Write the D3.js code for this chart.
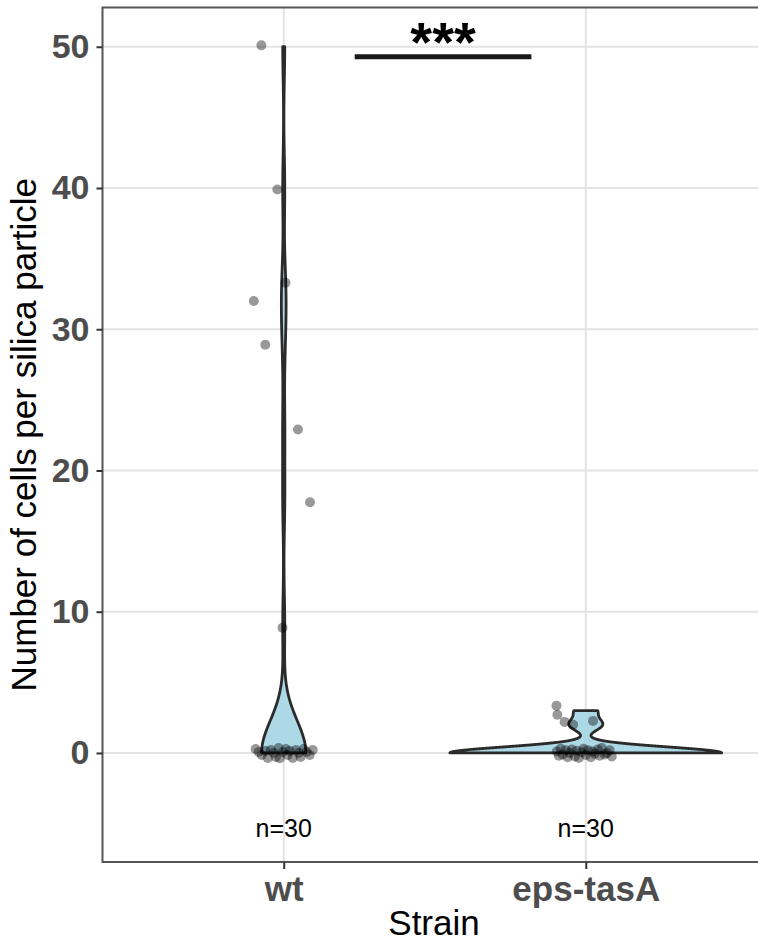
<!DOCTYPE html>
<html>
<head>
<meta charset="utf-8">
<script src="https://cdn.jsdelivr.net/npm/d3@7"></script>
<style>
  body { margin: 0; background: #fff; }
  svg text { font-family: "Liberation Sans", Arial, Helvetica, sans-serif; }
</style>
</head>
<body>
<svg id="chart" width="758" height="941"></svg>
<script>
// strains and sample sizes
const categories = ['wt', 'eps-tasA'];
const sampleSizes = [30, 30];
const yTicks = [0, 10, 20, 30, 40, 50];

// counted cells per particle (used for the violins)
const wtCounts = [50, 40, 33, 32, 29, 23, 18, 9,
  0, 0, 0, 0, 0, 0, 0, 0, 0, 0, 0, 0, 0, 0, 0, 0, 0, 0, 0, 0, 0, 0];
const epsCounts = [3, 3, 2, 2, 2,
  0, 0, 0, 0, 0, 0, 0, 0, 0, 0, 0, 0, 0, 0, 0, 0, 0, 0, 0, 0, 0, 0, 0, 0, 0];

// jittered points as they appear in the figure
const wtShown = [50.1, 39.9, 33.3, 32.0, 28.9, 22.9, 17.75, 8.87,
  0.28, 0.07, -0.14, 0.14, -0.35, 0.21, 0.0, -0.28, 0.35, -0.38, 0.07,
  0.28, -0.14, 0.14, -0.35, 0.21, 0.0, -0.28, 0.28, 0.07, -0.14, 0.21];
const wtJitter = [-0.074, -0.021, 0.006, -0.099, -0.061, 0.047, 0.087, -0.004,
  -0.093, -0.083, -0.073, -0.060, -0.053, -0.043, -0.033, -0.026, -0.017, -0.013, -0.003,
  0.007, 0.013, 0.020, 0.030, 0.040, 0.050, 0.056, 0.066, 0.076, 0.086, 0.096];
const epsShown = [3.35, 2.7, 2.2, 2.0, 2.27,
  0.1, -0.2, 0.3, -0.1, 0.2, -0.3, 0.0, 0.25, -0.25, 0.15, -0.35, 0.05, 0.3,
  -0.15, 0.2, -0.3, 0.1, -0.05, 0.25, -0.2, 0.35, -0.1, 0.0, 0.2, -0.25];
const epsJitter = [-0.097, -0.094, -0.070, -0.042, 0.024,
  -0.096, -0.089, -0.083, -0.076, -0.066, -0.060, -0.053, -0.046, -0.036, -0.030,
  -0.023, -0.013, -0.007, 0.0, 0.007, 0.017, 0.023, 0.030, 0.040, 0.046,
  0.053, 0.063, 0.070, 0.079, 0.086];

// significance bracket
const sigLabel = '***';
const sigFrom = 1.235, sigTo = 1.82, sigValue = 49.3;

const font = '"Liberation Sans", Arial, Helvetica, sans-serif';
const svg = d3.select('#chart');

const x = d3.scaleLinear().domain([0.4, 2.6]).range([102.5, 767]);
const y = d3.scaleLinear().domain([-7.72, 52.78]).range([862, 7.5]);

// R's bw.nrd0
const bwNrd0 = (v) => {
  const s = v.slice().sort(d3.ascending);
  const sd = d3.deviation(s);
  const iqr = d3.quantileSorted(s, 0.75) - d3.quantileSorted(s, 0.25);
  let lo = Math.min(sd, iqr / 1.34);
  if (!lo) lo = sd || Math.abs(s[0]) || 1;
  return 0.9 * lo * Math.pow(v.length, -0.2);
};

const kde = (v) => {
  const bw = bwNrd0(v);
  const lo = d3.min(v), hi = d3.max(v);
  return d3.range(512).map(i => {
    const t = lo + (hi - lo) * i / 511;
    const d = d3.mean(v, xi => Math.exp(-0.5 * ((t - xi) / bw) ** 2)) / (bw * Math.sqrt(2 * Math.PI));
    return [t, d];
  });
};

const groups = [
  {name: categories[0], counts: wtCounts, shown: wtShown, jitter: wtJitter},
  {name: categories[1], counts: epsCounts, shown: epsShown, jitter: epsJitter},
];
groups.forEach(g => { g.dens = kde(g.counts); });
const maxDens = d3.max(groups, g => d3.max(g.dens, d => d[1]));
const halfW = d3.scaleLinear().domain([0, maxDens]).range([0, 0.45]);

// gridlines
svg.append('g').selectAll('line').data(yTicks).enter().append('line')
  .attr('x1', x.range()[0]).attr('x2', x.range()[1])
  .attr('y1', d => y(d)).attr('y2', d => y(d))
  .attr('stroke', '#e3e3e3').attr('stroke-width', 2);
svg.append('g').selectAll('line').data(categories).enter().append('line')
  .attr('x1', (d, i) => x(i + 1)).attr('x2', (d, i) => x(i + 1))
  .attr('y1', y.range()[0]).attr('y2', y.range()[1])
  .attr('stroke', '#e3e3e3').attr('stroke-width', 2);

// violins
const line = d3.line();
svg.append('g').selectAll('path').data(groups).enter().append('path')
  .attr('d', (g, i) => {
    const right = g.dens.map(d => [x(i + 1 + halfW(d[1])), y(d[0])]);
    const left = g.dens.slice().reverse().map(d => [x(i + 1 - halfW(d[1])), y(d[0])]);
    return line(right.concat(left)) + 'Z';
  })
  .attr('fill', '#add8e6')
  .attr('stroke', '#2b2b2b')
  .attr('stroke-width', 2.8)
  .attr('stroke-linejoin', 'round');

// jittered points
groups.forEach((g, i) => {
  svg.append('g').selectAll('circle').data(g.shown).enter().append('circle')
    .attr('cx', (d, j) => x(i + 1 + g.jitter[j]))
    .attr('cy', d => y(d))
    .attr('r', 5)
    .attr('fill', '#000')
    .attr('fill-opacity', 0.4);
});

// sample size labels
svg.append('g').selectAll('text').data(sampleSizes).enter().append('text')
  .attr('x', (d, i) => x(i + 1))
  .attr('y', y(-5.3))
  .attr('dy', '0.35em')
  .attr('text-anchor', 'middle')
  .style('font-size', '25px')
  .text(d => 'n=' + d);

// significance bar
svg.append('line')
  .attr('x1', x(sigFrom)).attr('x2', x(sigTo))
  .attr('y1', y(sigValue)).attr('y2', y(sigValue))
  .attr('stroke', '#1a1a1a').attr('stroke-width', 5);
svg.append('text')
  .attr('x', x((sigFrom + sigTo) / 2))
  .attr('y', y(sigValue) + 4)
  .attr('text-anchor', 'middle')
  .style('font-size', '56px').style('font-weight', 'bold')
  .text(sigLabel);

// panel border
svg.append('rect')
  .attr('x', x.range()[0]).attr('y', y.range()[1])
  .attr('width', x.range()[1] - x.range()[0])
  .attr('height', y.range()[0] - y.range()[1])
  .attr('fill', 'none').attr('stroke', '#555').attr('stroke-width', 2);

// axes
const yAxis = svg.append('g')
  .attr('transform', `translate(${x.range()[0]},0)`)
  .call(d3.axisLeft(y).tickValues(yTicks).tickSize(6).tickPadding(7));
const xAxis = svg.append('g')
  .attr('transform', `translate(0,${y.range()[0]})`)
  .call(d3.axisBottom(x).tickValues([1, 2]).tickFormat((d, i) => categories[i]).tickSize(7).tickPadding(7));
[yAxis, xAxis].forEach(a => {
  a.select('.domain').remove();
  a.selectAll('.tick line').attr('stroke', '#333').attr('stroke-width', 2);
  a.selectAll('.tick text')
    .attr('fill', '#4d4d4d')
    .style('font-family', font)
    .style('font-weight', 'bold');
});
yAxis.selectAll('.tick text').style('font-size', '34px');
xAxis.selectAll('.tick text').style('font-size', '35px');

// axis titles
svg.append('text')
  .attr('x', 434)
  .attr('y', 935)
  .attr('text-anchor', 'middle')
  .style('font-size', '35px')
  .text('Strain');
svg.append('text')
  .attr('transform', `translate(36,${(y.range()[0] + y.range()[1]) / 2}) rotate(-90)`)
  .attr('text-anchor', 'middle')
  .style('font-size', '35px')
  .text('Number of cells per silica particle');
</script>
</body>
</html>
